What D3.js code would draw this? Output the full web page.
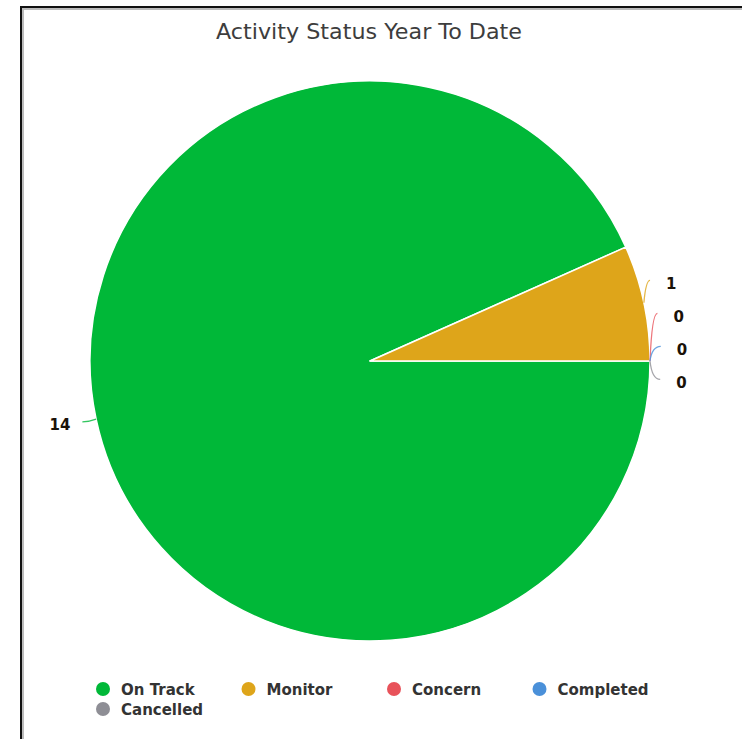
<!DOCTYPE html>
<html>
<head>
<meta charset="utf-8">
<script src="https://cdn.jsdelivr.net/npm/d3@7/dist/d3.min.js"></script>
<style>
  html, body { margin: 0; padding: 0; background: #fff; }
  svg { display: block; }
</style>
</head>
<body>
<svg id="chart" width="742" height="739"></svg>
<script>
// Activity status counts
const chartTitle = "Activity Status Year To Date";
const categories = ["On Track", "Monitor", "Concern", "Completed", "Cancelled"];
const values = [14, 1, 0, 0, 0];
const colors = ["#00b838", "#dea51a", "#e8525a", "#4a90d9", "#8e8e95"];

const W = 742, H = 739;
const svg = d3.select("#chart");

// Frame (left and top edges)
svg.append("path")
  .attr("d", `M23,${H} V9 H${W}`)
  .attr("fill", "none").attr("stroke", "#bbb").attr("stroke-width", 2);
svg.append("path")
  .attr("d", `M21,${H} V7 H${W}`)
  .attr("fill", "none").attr("stroke", "#111").attr("stroke-width", 2);

// Title
svg.append("text")
  .attr("x", 369).attr("y", 39)
  .attr("text-anchor", "middle")
  .attr("font-family", "'DejaVu Sans', sans-serif")
  .attr("font-size", 21.5)
  .attr("textLength", 306)
  .attr("lengthAdjust", "spacingAndGlyphs")
  .attr("fill", "#3d3d3d")
  .text(chartTitle);

// Pie
const cx = 370, cy = 361, R = 280;
const data = categories.map((c, i) => ({ name: c, value: values[i], color: colors[i] }));

const pie = d3.pie()
  .value(d => d.value)
  .sort(null)
  .startAngle(Math.PI / 2)
  .endAngle(Math.PI / 2 + 2 * Math.PI);
const arcs = pie(data);
const arc = d3.arc().innerRadius(0).outerRadius(R);

const g = svg.append("g").attr("transform", `translate(${cx},${cy})`);
g.selectAll("path.slice")
  .data(arcs.filter(a => a.value > 0))
  .join("path")
  .attr("class", "slice")
  .attr("d", arc)
  .attr("fill", d => d.data.color)
  .attr("stroke", "#fff")
  .attr("stroke-width", 1.5)
  .attr("stroke-linejoin", "round");

// Label layout: natural position at mid angle, then spread overlapping labels per side
const gap = 33;
const labels = arcs.map(a => {
  const m = (a.startAngle + a.endAngle) / 2;
  const ax = R * Math.sin(m), ay = -R * Math.cos(m);
  return { a, m, ax, ay, right: Math.sin(m) >= -1e-6, y: (R + 20) * -Math.cos(m) };
});

function spread(list) {
  // cluster-based relaxation keeping mean position
  let clusters = list.map(l => ({ items: [l], y0: l.y }));
  let merged = true;
  while (merged) {
    merged = false;
    for (let i = 0; i < clusters.length - 1; i++) {
      const c1 = clusters[i], c2 = clusters[i + 1];
      const end1 = c1.y0 + (c1.items.length - 1) * gap;
      if (c2.y0 - end1 < gap) {
        const items = c1.items.concat(c2.items);
        const mean = d3.mean(items, d => d.y);
        clusters.splice(i, 2, { items, y0: mean - (items.length - 1) * gap / 2 });
        merged = true;
        break;
      }
    }
  }
  clusters.forEach(c => c.items.forEach((l, k) => { l.ly = c.y0 + k * gap; }));
}
const rightSide = labels.filter(l => l.right).sort((p, q) => p.y - q.y || p.a.index - q.a.index);
const leftSide = labels.filter(l => !l.right).sort((p, q) => p.y - q.y);
spread(rightSide);
spread(leftSide);

labels.forEach(l => {
  // baseline of the label text and its visual centre
  l.by = l.right ? l.ly - 7 : l.ly + 7;
  const ty = l.by - 5.5;
  const edge = Math.sqrt(Math.max(0, R * R - ty * ty));
  if (l.right) {
    l.tx = edge + 27;
    l.ex = l.tx - 16;
    l.ey = ty - 3;
  } else {
    l.tx = -edge - 27;
    l.ex = l.tx + 12;
    l.ey = ty - 3;
  }
});

const lg = g.append("g");
lg.selectAll("path")
  .data(labels)
  .join("path")
  .attr("d", l => {
    if (!l.right) return `M${l.ax},${l.ay} Q${(l.ax + l.ex) / 2},${l.ey} ${l.ex},${l.ey}`;
    return `M${l.ax},${l.ay} Q${l.ax + 2},${l.ey} ${l.ex},${l.ey}`;
  })
  .attr("fill", "none")
  .attr("stroke", l => l.a.data.color)
  .attr("stroke-opacity", 0.8)
  .attr("stroke-width", 1.3);

lg.selectAll("text")
  .data(labels)
  .join("text")
  .attr("x", l => l.tx)
  .attr("y", l => l.by)
  .attr("text-anchor", l => l.right ? "start" : "end")
  .attr("font-family", "'DejaVu Sans', Verdana, sans-serif")
  .attr("font-weight", "bold")
  .attr("font-size", 15)
  .attr("fill", "#1a1208")
  .text(l => l.a.data.value);

// Legend
const legend = svg.append("g").attr("transform", "translate(103,689)");
const perRow = 4;
const col = d3.scaleLinear().domain([0, 1]).range([0, 145.5]);
const items = legend.selectAll("g")
  .data(data)
  .join("g")
  .attr("transform", (d, i) => `translate(${col(i % perRow)},${Math.floor(i / perRow) * 20})`);
items.append("circle").attr("r", 7).attr("fill", d => d.color);
items.append("text")
  .attr("x", 18).attr("y", 5.5)
  .attr("font-family", "'DejaVu Sans', Verdana, sans-serif")
  .attr("font-weight", "bold")
  .attr("font-size", 15)
  .attr("fill", "#333")
  .text(d => d.name);
</script>
</body>
</html>
